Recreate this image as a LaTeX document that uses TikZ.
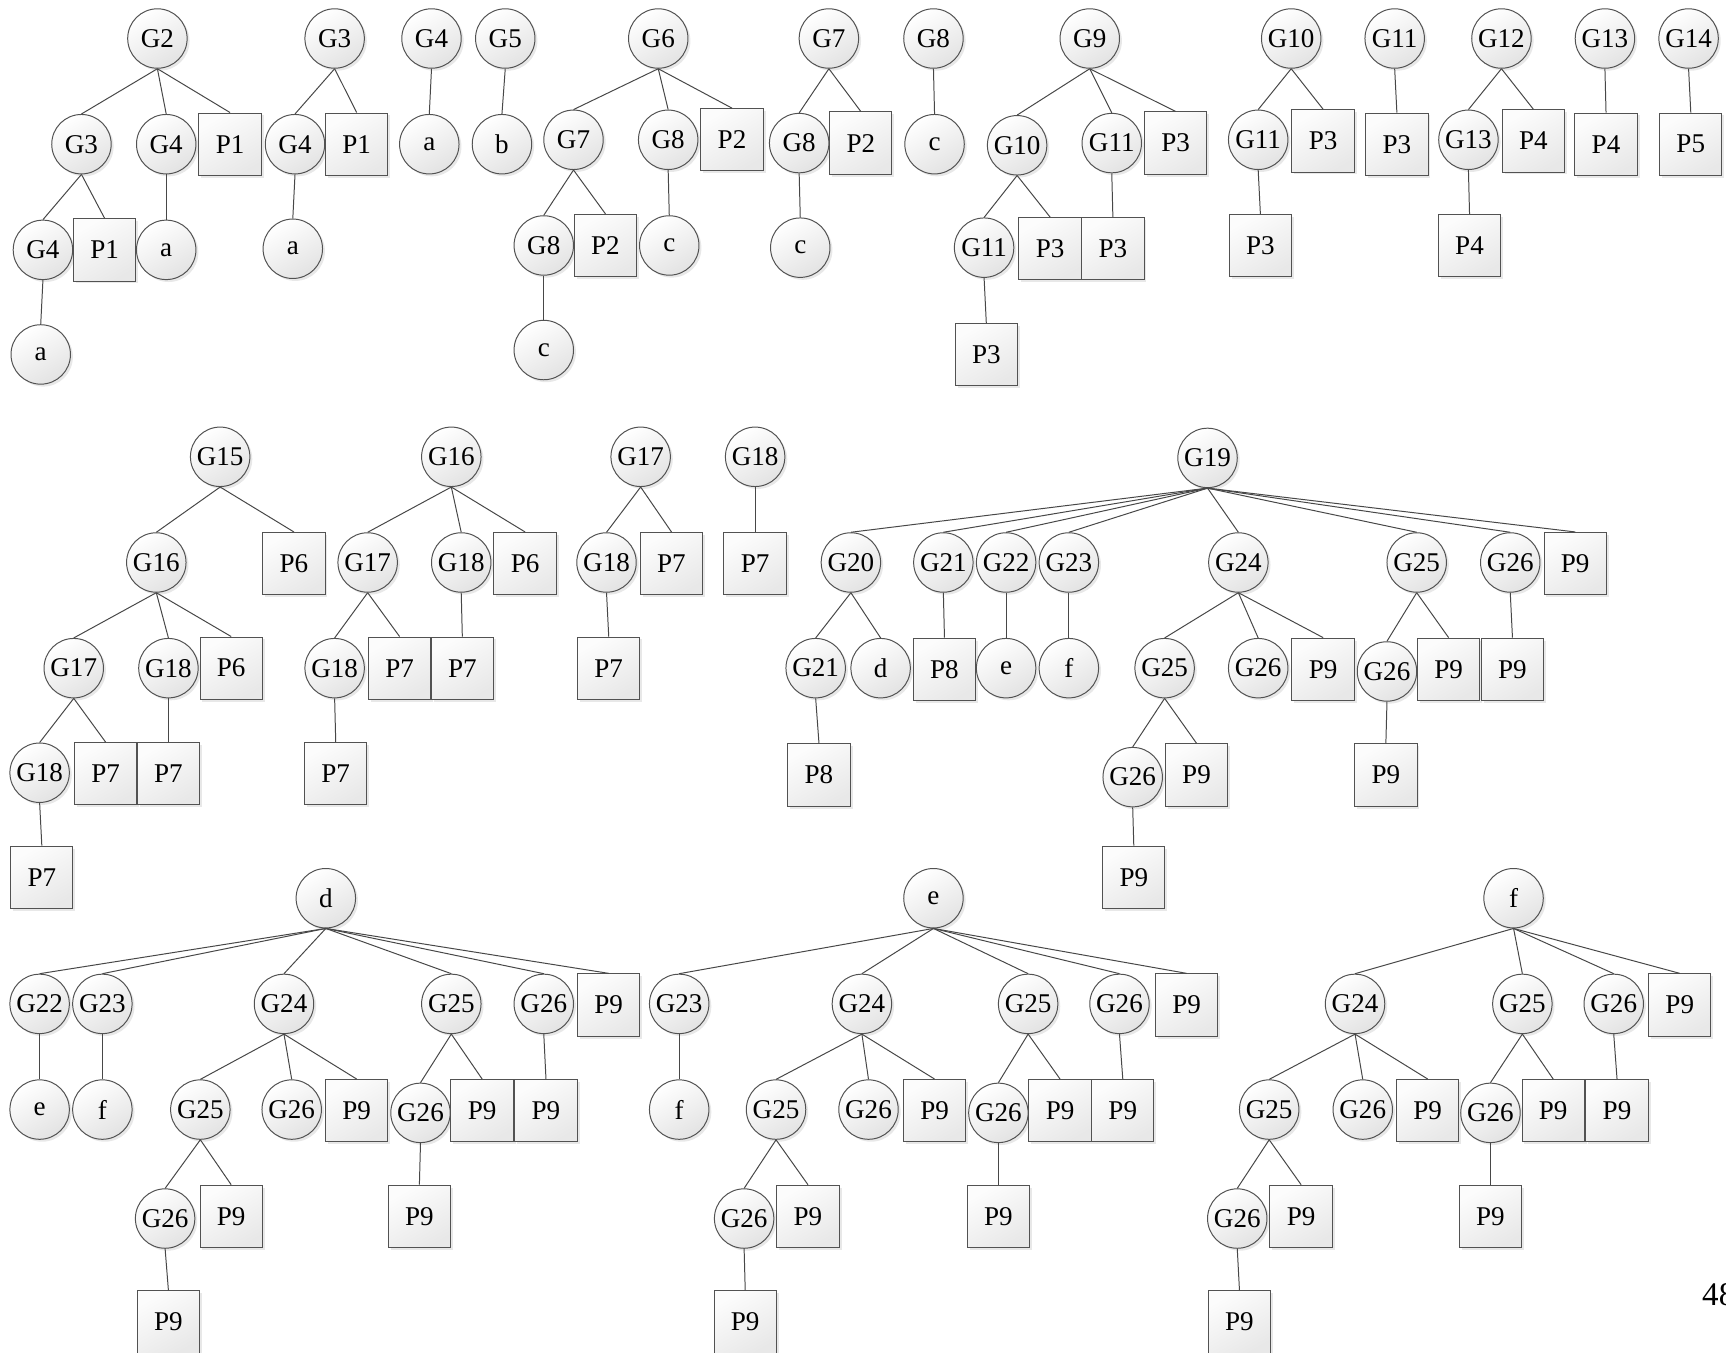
\documentclass[tikz,border=0pt]{standalone}
\usepackage{fontspec}
\setmainfont{Liberation Serif}
\usetikzlibrary{shadows}
\begin{document}
\begin{tikzpicture}[x=0.5pt,y=-0.5pt,
  every node/.style={font=\fontsize{12.3}{14}\selectfont},
  gn/.style={circle, draw=black!68, line width=0.45pt, minimum size=27pt, inner sep=0pt,
    top color=white, bottom color=black!11, shading angle=30,
    drop shadow={shadow xshift=1.1pt, shadow yshift=-1.1pt, opacity=0.18}},
  pn/.style={rectangle, draw=black!68, line width=0.45pt, minimum size=28.3pt, inner sep=0pt,
    top color=black!1, bottom color=black!9, shading angle=30,
    drop shadow={shadow xshift=1.1pt, shadow yshift=-1.1pt, opacity=0.18}},
  ed/.style={draw=black!72, line width=0.45pt}]
\fill[white] (0,0) rectangle (1568,1229);
\useasboundingbox (0,0) rectangle (1568,1229);

% ---------- Row 1 ----------
% Tree G2
\node[gn] (A0) at (143,35) {G2};
\node[gn] (A1) at (74,131) {G3};
\node[gn] (A2) at (151,131) {G4};
\node[pn] (A3) at (209,131) {P1};
\node[gn] (A4) at (39,227) {G4};
\node[pn] (A5) at (95,227) {P1};
\node[gn] (A6) at (151,227) {a};
\node[gn] (A7) at (37,322) {a};
\foreach \p/\c in {A0/A1,A0/A2,A0/A3,A1/A4,A1/A5,A2/A6,A4/A7}
  \draw[ed] (\p.south) -- (\c.north);

% Tree G3
\node[gn] (B0) at (304,35) {G3};
\node[gn] (B1) at (268,131) {G4};
\node[pn] (B2) at (324,131) {P1};
\node[gn] (B3) at (266,226) {a};
\foreach \p/\c in {B0/B1,B0/B2,B1/B3}
  \draw[ed] (\p.south) -- (\c.north);

% G4, G5
\node[gn] (C0) at (392,35) {G4};
\node[gn] (C1) at (390,131) {a};
\node[gn] (D0) at (459,35) {G5};
\node[gn] (D1) at (456,131) {b};
\draw[ed] (C0.south) -- (C1.north);
\draw[ed] (D0.south) -- (D1.north);

% Tree G6
\node[gn] (E0) at (598,35) {G6};
\node[gn] (E1) at (521,127) {G7};
\node[gn] (E2) at (607,127) {G8};
\node[pn] (E3) at (665,127) {P2};
\node[gn] (E4) at (494,223) {G8};
\node[pn] (E5) at (550,223) {P2};
\node[gn] (E6) at (608,223) {c};
\node[gn] (E7) at (494,318) {c};
\foreach \p/\c in {E0/E1,E0/E2,E0/E3,E1/E4,E1/E5,E2/E6,E4/E7}
  \draw[ed] (\p.south) -- (\c.north);

% Tree G7
\node[gn] (F0) at (753,35) {G7};
\node[gn] (F1) at (726,130) {G8};
\node[pn] (F2) at (782,130) {P2};
\node[gn] (F3) at (727,225) {c};
\foreach \p/\c in {F0/F1,F0/F2,F1/F3}
  \draw[ed] (\p.south) -- (\c.north);

% G8
\node[gn] (H0) at (848,35) {G8};
\node[gn] (H1) at (849,131) {c};
\draw[ed] (H0.south) -- (H1.north);

% Tree G9
\node[gn] (I0) at (990,35) {G9};
\node[gn] (I1) at (924,132) {G10};
\node[gn] (I2) at (1010,130) {G11};
\node[pn] (I3) at (1068,130) {P3};
\node[gn] (I4) at (894,225) {G11};
\node[pn] (I5) at (954,226) {P3};
\node[pn] (I6) at (1011,226) {P3};
\node[pn] (I7) at (896,322) {P3};
\foreach \p/\c in {I0/I1,I0/I2,I0/I3,I1/I4,I1/I5,I2/I6,I4/I7}
  \draw[ed] (\p.south) -- (\c.north);

% Tree G10
\node[gn] (J0) at (1173,35) {G10};
\node[gn] (J1) at (1143,127) {G11};
\node[pn] (J2) at (1202,128) {P3};
\node[pn] (J3) at (1145,223) {P3};
\foreach \p/\c in {J0/J1,J0/J2,J1/J3}
  \draw[ed] (\p.south) -- (\c.north);

% G11
\node[gn] (K0) at (1267,35) {G11};
\node[pn] (K1) at (1269,131) {P3};
\draw[ed] (K0.south) -- (K1.north);

% Tree G12
\node[gn] (L0) at (1364,35) {G12};
\node[gn] (L1) at (1334,127) {G13};
\node[pn] (L2) at (1393,128) {P4};
\node[pn] (L3) at (1335,223) {P4};
\foreach \p/\c in {L0/L1,L0/L2,L1/L3}
  \draw[ed] (\p.south) -- (\c.north);

% G13, G14
\node[gn] (M0) at (1458,35) {G13};
\node[pn] (M1) at (1459,131) {P4};
\node[gn] (N0) at (1534,35) {G14};
\node[pn] (N1) at (1536,131) {P5};
\draw[ed] (M0.south) -- (M1.north);
\draw[ed] (N0.south) -- (N1.north);

% ---------- Row 2 ----------
% Tree G15
\node[gn] (O0) at (200,415) {G15};
\node[gn] (O1) at (142,511) {G16};
\node[pn] (O2) at (267,512) {P6};
\node[gn] (O3) at (67,607) {G17};
\node[gn] (O4) at (153,607) {G18};
\node[pn] (O5) at (210,607) {P6};
\node[gn] (O6) at (36,702) {G18};
\node[pn] (O7) at (96,703) {P7};
\node[pn] (O8) at (153,703) {P7};
\node[pn] (O9) at (38,797) {P7};
\foreach \p/\c in {O0/O1,O0/O2,O1/O3,O1/O4,O1/O5,O3/O6,O3/O7,O4/O8,O6/O9}
  \draw[ed] (\p.south) -- (\c.north);

% Tree G16
\node[gn] (Q0) at (410,415) {G16};
\node[gn] (Q1) at (334,511) {G17};
\node[gn] (Q2) at (419,511) {G18};
\node[pn] (Q3) at (477,512) {P6};
\node[gn] (Q4) at (304,607) {G18};
\node[pn] (Q5) at (363,607) {P7};
\node[pn] (Q6) at (420,607) {P7};
\node[pn] (Q7) at (305,703) {P7};
\foreach \p/\c in {Q0/Q1,Q0/Q2,Q0/Q3,Q1/Q4,Q1/Q5,Q2/Q6,Q4/Q7}
  \draw[ed] (\p.south) -- (\c.north);

% Tree G17
\node[gn] (R0) at (582,415) {G17};
\node[gn] (R1) at (551,511) {G18};
\node[pn] (R2) at (610,512) {P7};
\node[pn] (R3) at (553,607) {P7};
\foreach \p/\c in {R0/R1,R0/R2,R1/R3}
  \draw[ed] (\p.south) -- (\c.north);

% G18
\node[gn] (S0) at (686,415) {G18};
\node[pn] (S1) at (686,512) {P7};
\draw[ed] (S0.south) -- (S1.north);

% Tree G19
\node[gn] (T0) at (1097,416) {G19};
\node[gn] (T1) at (773,511) {G20};
\node[gn] (T2) at (857,511) {G21};
\node[gn] (T3) at (914,511) {G22};
\node[gn] (T4) at (971,511) {G23};
\node[gn] (T5) at (1125,511) {G24};
\node[gn] (T6) at (1287,511) {G25};
\node[gn] (T7) at (1372,511) {G26};
\node[pn] (T8) at (1431,512) {P9};
\node[gn] (T9) at (741,607) {G21};
\node[gn] (T10) at (800,607) {d};
\node[pn] (T11) at (858,608) {P8};
\node[gn] (T12) at (914,607) {e};
\node[gn] (T13) at (971,607) {f};
\node[gn] (T14) at (1058,607) {G25};
\node[gn] (T15) at (1143,607) {G26};
\node[pn] (T16) at (1202,608) {P9};
\node[gn] (T17) at (1260,610) {G26};
\node[pn] (T18) at (1316,608) {P9};
\node[pn] (T19) at (1374,608) {P9};
\node[pn] (T20) at (744,704) {P8};
\node[gn] (T21) at (1029,706) {G26};
\node[pn] (T22) at (1087,704) {P9};
\node[pn] (T23) at (1259,704) {P9};
\node[pn] (T24) at (1030,797) {P9};
\foreach \c in {T1,T2,T3,T4,T5,T6,T7,T8}
  \draw[ed] (T0.south) -- (\c.north);
\foreach \p/\c in {T1/T9,T1/T10,T2/T11,T3/T12,T4/T13,T5/T14,T5/T15,T5/T16,T6/T17,T6/T18,T7/T19,T9/T20,T14/T21,T14/T22,T17/T23,T21/T24}
  \draw[ed] (\p.south) -- (\c.north);

% ---------- Row 3 ----------
% Tree d
\node[gn] (U0) at (296,816) {d};
\node[gn] (U1) at (36,912) {G22};
\node[gn] (U2) at (93,912) {G23};
\node[gn] (U3) at (258,912) {G24};
\node[gn] (U4) at (410,912) {G25};
\node[gn] (U5) at (494,912) {G26};
\node[pn] (U6) at (553,913) {P9};
\node[gn] (U7) at (36,1008) {e};
\node[gn] (U8) at (93,1008) {f};
\node[gn] (U9) at (182,1008) {G25};
\node[gn] (U10) at (265,1008) {G26};
\node[pn] (U11) at (324,1009) {P9};
\node[gn] (U12) at (382,1011) {G26};
\node[pn] (U13) at (438,1009) {P9};
\node[pn] (U14) at (496,1009) {P9};
\node[gn] (U15) at (150,1107) {G26};
\node[pn] (U16) at (210,1105) {P9};
\node[pn] (U17) at (381,1105) {P9};
\node[pn] (U18) at (153,1201) {P9};
\foreach \c in {U1,U2,U3,U4,U5,U6}
  \draw[ed] (U0.south) -- (\c.north);
\foreach \p/\c in {U1/U7,U2/U8,U3/U9,U3/U10,U3/U11,U4/U12,U4/U13,U5/U14,U9/U15,U9/U16,U12/U17,U15/U18}
  \draw[ed] (\p.south) -- (\c.north);

% Tree e
\node[gn] (V0) at (848,816) {e};
\node[gn] (V1) at (617,912) {G23};
\node[gn] (V2) at (783,912) {G24};
\node[gn] (V3) at (934,912) {G25};
\node[gn] (V4) at (1017,912) {G26};
\node[pn] (V5) at (1078,913) {P9};
\node[gn] (V6) at (617,1008) {f};
\node[gn] (V7) at (705,1008) {G25};
\node[gn] (V8) at (789,1008) {G26};
\node[pn] (V9) at (849,1009) {P9};
\node[gn] (V10) at (907,1011) {G26};
\node[pn] (V11) at (963,1009) {P9};
\node[pn] (V12) at (1020,1009) {P9};
\node[gn] (V13) at (676,1107) {G26};
\node[pn] (V14) at (734,1105) {P9};
\node[pn] (V15) at (907,1105) {P9};
\node[pn] (V16) at (677,1201) {P9};
\foreach \c in {V1,V2,V3,V4,V5}
  \draw[ed] (V0.south) -- (\c.north);
\foreach \p/\c in {V1/V6,V2/V7,V2/V8,V2/V9,V3/V10,V3/V11,V4/V12,V7/V13,V7/V14,V10/V15,V13/V16}
  \draw[ed] (\p.south) -- (\c.north);

% Tree f
\node[gn] (W0) at (1375,816) {f};
\node[gn] (W1) at (1231,912) {G24};
\node[gn] (W2) at (1383,912) {G25};
\node[gn] (W3) at (1466,912) {G26};
\node[pn] (W4) at (1526,913) {P9};
\node[gn] (W5) at (1153,1008) {G25};
\node[gn] (W6) at (1238,1008) {G26};
\node[pn] (W7) at (1297,1009) {P9};
\node[gn] (W8) at (1354,1011) {G26};
\node[pn] (W9) at (1411,1009) {P9};
\node[pn] (W10) at (1469,1009) {P9};
\node[gn] (W11) at (1124,1107) {G26};
\node[pn] (W12) at (1182,1105) {P9};
\node[pn] (W13) at (1354,1105) {P9};
\node[pn] (W14) at (1126,1201) {P9};
\foreach \c in {W1,W2,W3,W4}
  \draw[ed] (W0.south) -- (\c.north);
\foreach \p/\c in {W1/W5,W1/W6,W1/W7,W2/W8,W2/W9,W3/W10,W5/W11,W5/W12,W8/W13,W11/W14}
  \draw[ed] (\p.south) -- (\c.north);

% page number (cut off at the right edge, as in the reference)
\node[anchor=west, inner sep=0pt, font=\fontsize{15}{17}\selectfont] (pg) at (1546,1176) {48};
\end{tikzpicture}
\end{document}
